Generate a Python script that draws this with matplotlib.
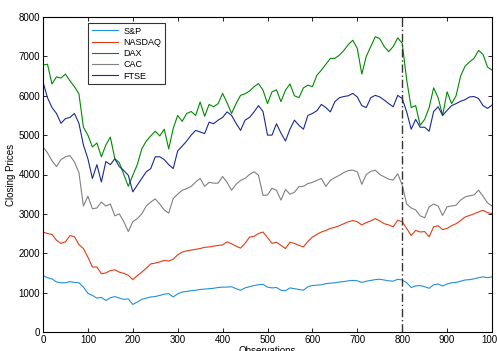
import numpy as np
import matplotlib
matplotlib.use('Agg')
import matplotlib.pyplot as plt

plt.rcParams['font.family'] = ['Liberation Sans', 'DejaVu Sans']

# observation index, read every 10 points off the reference
obs = np.arange(0, 1001, 10)

sp = [1430, 1380, 1350, 1270, 1250, 1250, 1280, 1260, 1250, 1140,
      980, 930, 860, 880, 800, 870, 900, 860, 830, 840,
      700, 760, 830, 860, 890, 900, 930, 960, 975, 890,
      970, 1015, 1030, 1050, 1060, 1080, 1090, 1100, 1110, 1130,
      1140, 1140, 1150, 1100, 1060, 1120, 1150, 1180, 1200, 1210,
      1140, 1120, 1130, 1060, 1050, 1120, 1100, 1080, 1060, 1150,
      1180, 1190, 1200, 1230, 1240, 1250, 1270, 1280, 1300, 1310,
      1300, 1260, 1290, 1310, 1330, 1340, 1320, 1300, 1290, 1340,
      1320, 1250, 1130, 1170, 1180, 1150, 1110, 1200, 1220, 1170,
      1220, 1250, 1260, 1290, 1320, 1330, 1350, 1380, 1400, 1380,
      1400]

nasdaq = [2540, 2500, 2480, 2330, 2250, 2290, 2450, 2420, 2220, 2120,
          1900, 1650, 1650, 1480, 1500, 1560, 1580, 1520, 1490, 1440,
          1330, 1430, 1520, 1620, 1730, 1750, 1780, 1820, 1800, 1850,
          1960, 2030, 2060, 2080, 2100, 2120, 2150, 2160, 2180, 2200,
          2210, 2290, 2240, 2180, 2130, 2250, 2410, 2430, 2500, 2540,
          2400, 2250, 2280, 2200, 2120, 2280, 2250, 2200, 2160, 2300,
          2410, 2480, 2540, 2580, 2630, 2660, 2700, 2750, 2800, 2830,
          2800, 2720, 2780, 2820, 2880, 2820, 2750, 2720, 2670, 2840,
          2800, 2630, 2450, 2580, 2540, 2550, 2420, 2670, 2700, 2600,
          2630, 2700, 2750, 2830, 2920, 2960, 3000, 3050, 3090, 3030,
          3010]

dax = [6780, 6800, 6300, 6480, 6450, 6550, 6380, 6230, 6050, 5200,
       5000, 4700, 4800, 4450, 4750, 4950, 4400, 4300, 4000, 3700,
       3980, 4250, 4650, 4850, 4980, 5100, 4980, 5150, 4650, 5170,
       5500, 5350, 5550, 5600, 5500, 5840, 5480, 5780, 5720, 5800,
       6060, 5820, 5550, 5800, 6010, 6050, 6120, 6230, 6310, 6140,
       5800, 6100, 6150, 5850, 6140, 6300, 6000, 5950, 6200, 6270,
       6230, 6520, 6650, 6800, 6950, 6950, 7030, 7150, 7300, 7410,
       7200, 6550, 7000, 7250, 7500, 7450, 7250, 7120, 7250, 7470,
       7330, 6400, 5700, 5750, 5250, 5400, 5700, 6200, 5950, 5500,
       6100, 5800, 6000, 6500, 6750, 6860, 6950, 7150, 7050, 6730,
       6650]

cac = [4700, 4550, 4350, 4200, 4380, 4450, 4480, 4320, 4050, 3200,
       3450, 3130, 3150, 3300, 3200, 3250, 2950, 3000, 2800, 2550,
       2800, 2880, 3000, 3200, 3300, 3380, 3250, 3100, 3020, 3390,
       3500, 3600, 3640, 3700, 3810, 3900, 3700, 3800, 3780, 3780,
       3950, 3800, 3600, 3750, 3850, 3900, 4000, 4070, 3980, 3470,
       3480, 3650, 3600, 3350, 3620, 3500, 3550, 3690, 3700, 3770,
       3800, 3850, 3900, 3700, 3850, 3920, 3980, 4050, 4100, 4110,
       4070, 3750, 4000, 4080, 4110, 4000, 3940, 3880, 3860, 4020,
       3730, 3250, 3150, 3100, 2950, 2900, 3180, 3250, 3200, 2960,
       3180, 3200, 3220, 3350, 3430, 3460, 3480, 3600, 3450, 3280,
       3200]

ftse = [6350, 5950, 5700, 5550, 5300, 5420, 5450, 5550, 5300, 4750,
        4400, 3900, 4250, 3810, 4330, 4250, 4400, 4200, 4100, 3980,
        3560, 3730, 3900, 4070, 4150, 4450, 4450, 4380, 4250, 4150,
        4600, 4720, 4850, 5000, 5120, 5080, 5040, 5330, 5290, 5380,
        5450, 5590, 5500, 5300, 5120, 5380, 5450, 5590, 5750, 5600,
        5000, 5000, 5290, 5050, 4850, 5150, 5380, 5250, 5150, 5500,
        5550, 5620, 5780, 5700, 5590, 5850, 5950, 5980, 6000, 6060,
        5970, 5750, 5700, 5950, 6010, 5970, 5890, 5800, 5720, 6010,
        5930, 5590, 5150, 5400, 5200, 5200, 5100, 5600, 5720, 5500,
        5630, 5750, 5800, 5860, 5900, 5970, 5980, 5930, 5750, 5680,
        5760]

names = ['S&P', 'NASDAQ', 'DAX', 'CAC', 'FTSE']
colors = ['#2290d8', '#e03c14', '#008a00', '#808080', '#1a2b8f']
break_obs = 800

fig = plt.figure(figsize=(4.97, 3.51), dpi=100)
ax = fig.add_axes([43 / 497, 19 / 351, 449 / 497, 315 / 351])

for name, series, c in zip(names, [sp, nasdaq, dax, cac, ftse], colors):
    ax.plot(obs, series, color=c, lw=0.8, label=name)

ax.axvline(break_obs, color='#333333', lw=1.0, ls=(0, (6, 2, 1, 2)))

ax.set_xlim(0, 1000)
ax.set_ylim(0, 8000)
ax.set_xticks(range(0, 1001, 100))
ax.set_yticks(range(0, 8001, 1000))
ax.tick_params(direction='in', top=True, right=True, labelsize=7, length=3, width=0.6, pad=2)
for s in ax.spines.values():
    s.set_linewidth(0.8)

ax.set_xlabel('Observations', fontsize=7, labelpad=1)
ax.set_ylabel('Closing Prices', fontsize=7, labelpad=2)

leg = ax.legend(loc='upper left', bbox_to_anchor=(0.1, 0.981), borderaxespad=0,
                fontsize=6.5, frameon=True, fancybox=False, handlelength=2.9,
                handletextpad=0.6, labelspacing=0.25, borderpad=0.4)
leg.get_frame().set_edgecolor('black')
leg.get_frame().set_linewidth(0.8)

fig.savefig('out.png', dpi=100)
